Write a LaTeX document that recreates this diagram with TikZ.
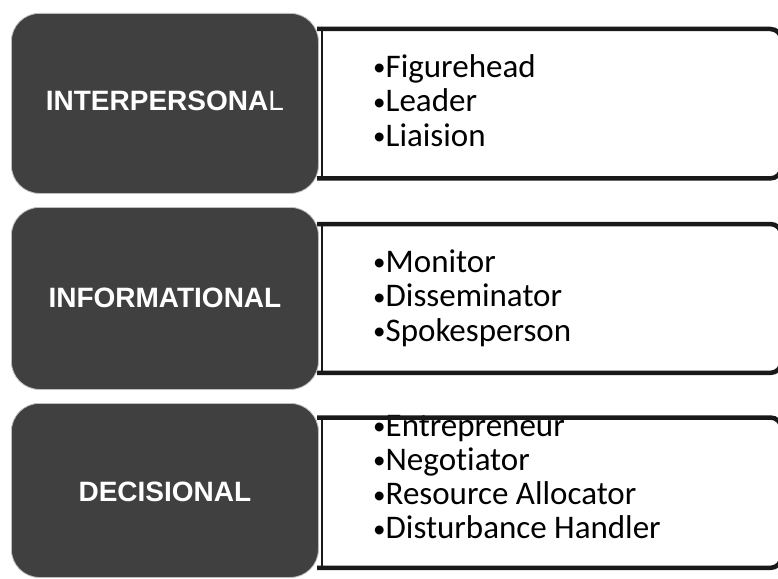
\documentclass[tikz,border=0pt]{standalone}
\usepackage{fontspec}
\setmainfont{Carlito}[RawFeature={-liga}]
\newfontfamily\labelfont{Liberation Sans}
\definecolor{darkbox}{RGB}{64,64,64}
\definecolor{edgegray}{RGB}{190,190,190}
\definecolor{bordergray}{RGB}{25,25,25}
\newcommand\bul{\raisebox{1.5pt}{\fontsize{25}{25}\selectfont •}}
\begin{document}
\begin{tikzpicture}[x=1pt,y=-1pt,
  rolebox/.style={fill=darkbox, draw=edgegray, line width=0.8pt, rounded corners=28pt,
    minimum width=307pt, anchor=north west, inner sep=0pt},
  listfill/.style={fill=white, draw=none,
    minimum width=460pt, anchor=north west, inner sep=0pt},
  listedge/.style={draw=bordergray, line width=4.5pt, rounded corners=11pt},
  leftedge/.style={draw=bordergray, line width=1.2pt},
  rolelabel/.style={text=white, font=\labelfont\bfseries\fontsize{28}{28}\selectfont},
  item/.style={anchor=base west, inner sep=0pt, font=\fontsize{33}{34}\selectfont}]
\useasboundingbox (0,0) rectangle (778,578);
\fill[white] (0,0) rectangle (778,578);
% list boxes (fill)
\node[listfill, minimum height=149pt] (b1) at (321,29) {};
\node[listfill, minimum height=148.5pt] (b2) at (321,224) {};
\node[listfill, minimum height=150pt] (b3) at (321,417.5) {};
% list items
\node[item] (i11) at (373,77) {\bul Figurehead};
\node[item] (i12) at (373,111.5) {\bul Leader};
\node[item] (i13) at (373,146) {\bul Liaision};
\node[item] (i21) at (373,272) {\bul Monitor};
\node[item] (i22) at (373,306.5) {\bul Disseminator};
\node[item] (i23) at (373,341) {\bul Spokesperson};
\node[item] (i31) at (373,436) {\bul Entrepreneur};
\node[item] (i32) at (373,470.3) {\bul Negotiator};
\node[item] (i33) at (373,504.6) {\bul Resource Allocator};
\node[item] (i34) at (373,538.9) {\bul Disturbance Handler};
% list box borders
\foreach \b in {b1,b2,b3}{
  \draw[listedge] ([xshift=-4pt]\b.north west) -- (\b.north east) -- (\b.south east) -- ([xshift=-4pt]\b.south west);
  \draw[leftedge] ([xshift=1pt]\b.north west) -- ([xshift=1pt]\b.south west);
}
% role boxes
\node[rolebox, minimum height=180pt] (r1) at (11,13) {};
\node[rolebox, minimum height=182pt] (r2) at (11,207) {};
\node[rolebox, minimum height=174pt] (r3) at (11,403) {};
\node[rolelabel] (t1) at ([yshift=3pt]r1.center) {INTERPERSONA{\mdseries L}};
\node[rolelabel] (t2) at ([yshift=1pt]r2.center) {INFORMATIONAL};
\node[rolelabel] (t3) at ([yshift=-1pt]r3.center) {DECISIONAL};
\end{tikzpicture}
\end{document}
